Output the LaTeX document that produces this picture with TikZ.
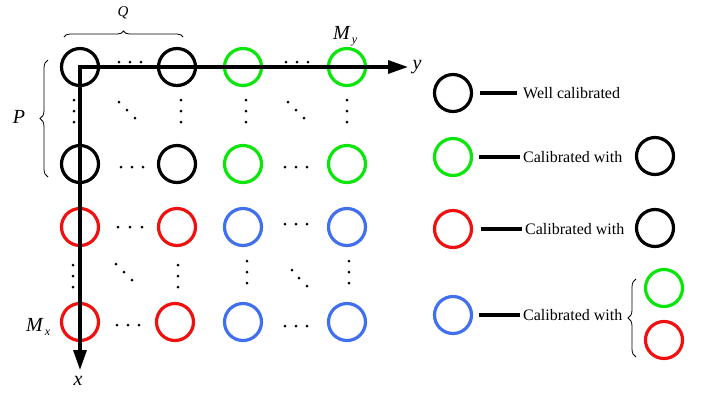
\documentclass[tikz,border=0pt]{standalone}
\usepackage{fontspec}
\setmainfont{Liberation Serif}
\usetikzlibrary{decorations.pathreplacing,arrows.meta}
\definecolor{cgreen}{RGB}{10,230,10}
\definecolor{cred}{RGB}{240,16,16}
\definecolor{cblue}{RGB}{64,112,240}
\begin{document}
\begin{tikzpicture}[x=1pt,y=-1pt,
  ring/.style={circle,draw,line width=3.2pt,minimum size=37pt,inner sep=0pt},
  lgtext/.style={anchor=west,inner sep=0pt,font=\fontsize{16}{18}\selectfont},
  lgline/.style={line width=3.2pt},
  brc/.style={decorate,decoration={brace,amplitude=#1},line width=0.8pt},
  axis/.style={line width=3.2pt}]
\useasboundingbox (0,0) rectangle (710,392);
% grid circles
\node[ring,draw=black] (a11) at (80,67) {};
\node[ring,draw=black] (a12) at (177,67) {};
\node[ring,draw=cgreen] (a13) at (243,67) {};
\node[ring,draw=cgreen] (a14) at (347,67) {};
\node[ring,draw=black] (a21) at (80,164) {};
\node[ring,draw=black] (a22) at (177,164) {};
\node[ring,draw=cgreen] (a23) at (243,164) {};
\node[ring,draw=cgreen] (a24) at (347,164) {};
\node[ring,draw=cred] (a31) at (80,227) {};
\node[ring,draw=cred] (a32) at (177,227) {};
\node[ring,draw=cblue] (a33) at (243,227) {};
\node[ring,draw=cblue] (a34) at (347,227) {};
\node[ring,draw=cred] (a41) at (80,322) {};
\node[ring,draw=cred] (a42) at (175,322) {};
\node[ring,draw=cblue] (a43) at (243,322) {};
\node[ring,draw=cblue] (a44) at (347,322) {};
% dots
\foreach \x/\y in {119/62,130/62,141/62, 286/62,297/62,308/62,
  121/167,132/167,143/167, 285/167,296/167,307/167,
  118/227,130/227,142/227, 285/224,296/224,307/224,
  117/325,128/325,139/325, 285/326,296/326,307/326,
  74/100,74/111,74/122, 181/100,181/111,181/122,
  246/100,246/111,246/122, 347/100,347/111,347/122,
  119/102,127/110,135/118, 288/102,296/110,304/118,
  73/265,73/276,73/287, 178/265,178/276,178/287,
  247/261,247/272,247/283, 349/261,349/272,349/283,
  116/264,124/272,132/280, 292/270,299/278,307/286}
  \fill (\x,\y) circle (1.5);
% axes
\coordinate (O) at (80,67);
\coordinate (Y) at (408,67);
\coordinate (X) at (80,370);
\draw[axis,{Triangle[length=20pt,width=13pt]}-{Triangle[length=20pt,width=13pt]}] (X) -- (O) -- (Y);
\node[font=\fontsize{20}{20}\selectfont\itshape] (ylab) at (417,67) {y};
\node[font=\fontsize{20}{20}\selectfont\itshape] (xlab) at (78,381) {x};
\node[font=\fontsize{20}{20}\selectfont\itshape,anchor=base west,inner sep=0pt] (my) at (333,39) {M\raisebox{-4pt}{\fontsize{12}{12}\selectfont\,y}};
\node[font=\fontsize{20}{20}\selectfont\itshape,anchor=base west,inner sep=0pt] (mx) at (26,331) {M\raisebox{-4pt}{\fontsize{12}{12}\selectfont\,x}};
% braces
\draw[brc=6pt] (64,37) -- (183,37);
\node[font=\fontsize{15}{15}\selectfont\itshape] (q) at (123,13) {Q};
\draw[brc=8pt] (48,177) -- (48,60);
\node[font=\fontsize{20}{20}\selectfont\itshape] (p) at (19,117) {P};
% legend
\node[ring,draw=black] (l1) at (453,93) {};
\node[lgtext] (t1) at (523,93) {Well calibrated};
\draw[lgline] (480,93) -- ([xshift=-6pt]t1.west);
\node[ring,draw=cgreen] (l2) at (453,157) {};
\node[lgtext] (t2) at (523,157) {Calibrated with};
\draw[lgline] (479,157) -- ([xshift=-3pt]t2.west);
\node[ring,draw=black] (r2) at (655,156) {};
\node[ring,draw=cred] (l3) at (453,229) {};
\node[lgtext] (t3) at (525,229) {Calibrated with};
\draw[lgline] (481,229) -- ([xshift=-3pt]t3.west);
\node[ring,draw=black] (r3) at (655,228) {};
\node[ring,draw=cblue] (l4) at (453,315) {};
\node[lgtext] (t4) at (523,315) {Calibrated with};
\draw[lgline] (479,315) -- ([xshift=-3pt]t4.west);
\node[ring,draw=cgreen] (r4a) at (664,288) {};
\node[ring,draw=cred] (r4b) at (664,340) {};
\draw[brc=8pt] (636,357) -- (636,279);
\end{tikzpicture}
\end{document}
